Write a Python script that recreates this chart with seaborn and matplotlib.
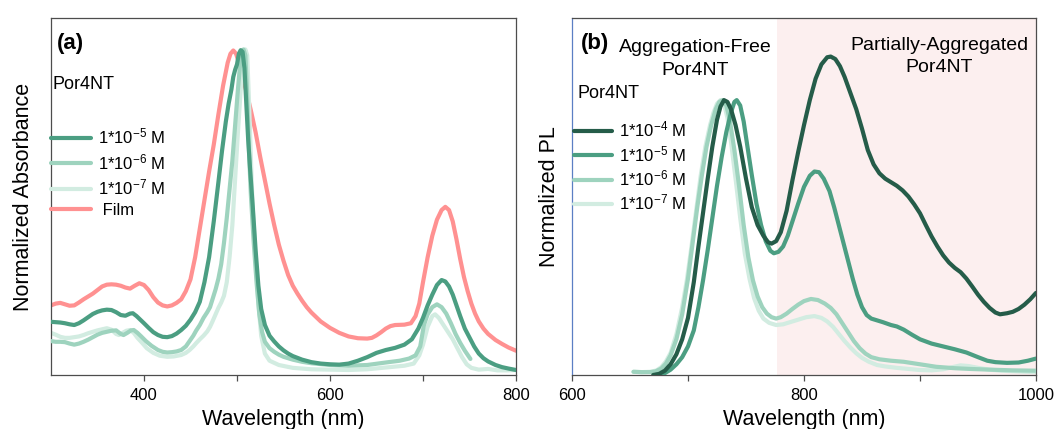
import numpy as np
import pandas as pd
import matplotlib
matplotlib.use("Agg")
import matplotlib.pyplot as plt
import seaborn as sns

# ---------------- data: panel (a) absorbance ----------------
abs_wl_5 = [300,305,310,315,320,325,330,335,340,345,350,355,360,365,370,375,380,385,388,392,396,400,405,410,415,420,425,430,435,440,445,450,455,460,465,470,475,480,484,488,491,494,496,498,500,502,504,506,508,510,512,514,517,520,523,526,530,535,540,545,550,555,560,570,580,590,600,610,620,630,640,650,660,670,680,688,695,700,705,710,715,720,724,728,732,736,740,745,750,755,760,765,770,778,785,792,800]
abs_5 = [0.149,0.148,0.147,0.145,0.142,0.14,0.145,0.153,0.162,0.171,0.177,0.181,0.183,0.182,0.176,0.168,0.166,0.172,0.173,0.165,0.155,0.145,0.132,0.12,0.112,0.107,0.106,0.109,0.116,0.126,0.138,0.155,0.176,0.205,0.26,0.33,0.43,0.54,0.63,0.71,0.76,0.8,0.835,0.855,0.87,0.9,0.91,0.905,0.86,0.76,0.66,0.58,0.47,0.35,0.25,0.185,0.14,0.11,0.094,0.08,0.069,0.06,0.053,0.043,0.036,0.032,0.03,0.029,0.032,0.04,0.05,0.062,0.07,0.076,0.085,0.1,0.13,0.16,0.195,0.225,0.252,0.266,0.262,0.248,0.225,0.195,0.165,0.13,0.105,0.08,0.06,0.047,0.038,0.028,0.022,0.018,0.014]

abs_wl_6 = [300,305,310,315,320,325,330,335,340,345,350,355,360,365,370,375,378,382,386,389,393,397,402,408,415,420,425,430,435,440,445,449,453,456,460,464,468,471,474,477,480,483,486,489,492,495,498,501,503,505,507,509,511,513,515,518,521,524,527,530,535,540,545,550,560,570,580,600,620,640,660,675,685,692,697,701,705,710,715,720,725,730,735,740,745,751]
abs_6 = [0.095,0.093,0.093,0.092,0.088,0.085,0.088,0.093,0.099,0.106,0.113,0.118,0.121,0.124,0.125,0.115,0.112,0.118,0.125,0.126,0.118,0.108,0.095,0.082,0.07,0.065,0.063,0.064,0.066,0.07,0.08,0.095,0.11,0.124,0.14,0.16,0.176,0.19,0.215,0.24,0.27,0.31,0.37,0.44,0.52,0.6,0.7,0.8,0.86,0.9,0.912,0.895,0.78,0.62,0.5,0.37,0.26,0.17,0.12,0.093,0.075,0.065,0.057,0.051,0.043,0.037,0.033,0.028,0.026,0.028,0.035,0.04,0.046,0.055,0.08,0.14,0.17,0.19,0.198,0.19,0.172,0.145,0.115,0.09,0.068,0.045]

abs_wl_7 = [300,305,310,315,320,325,330,335,340,345,350,355,360,365,370,373,377,381,385,389,393,398,403,410,417,425,432,440,445,449,453,456,460,464,468,471,474,477,480,483,486,489,492,495,498,501,504,507,509,511,513,515,517,520,523,526,530,535,545,560,580,600,620,640,660,680,690,696,700,705,710,713,717,722,727,732,737,742,747,752,760,770,780,790,800]
abs_7 = [0.118,0.113,0.107,0.104,0.104,0.106,0.108,0.112,0.117,0.121,0.125,0.128,0.131,0.127,0.115,0.112,0.118,0.124,0.126,0.118,0.104,0.09,0.075,0.062,0.054,0.051,0.052,0.056,0.062,0.07,0.08,0.089,0.1,0.11,0.122,0.135,0.152,0.17,0.188,0.203,0.222,0.26,0.33,0.42,0.55,0.68,0.8,0.89,0.912,0.895,0.76,0.6,0.46,0.33,0.2,0.11,0.06,0.04,0.028,0.02,0.016,0.015,0.014,0.016,0.021,0.026,0.032,0.055,0.085,0.135,0.165,0.17,0.16,0.14,0.12,0.1,0.075,0.05,0.03,0.02,0.015,0.017,0.013,0.013,0.014]

film_wl = [300,305,310,315,320,325,330,335,340,345,350,355,360,365,370,375,380,385,390,395,400,405,410,415,420,425,430,435,440,445,450,455,460,465,470,475,480,485,490,493,496,499,502,506,510,515,520,525,530,535,540,545,550,555,560,565,570,575,580,590,600,610,620,630,640,645,650,655,660,665,670,680,687,692,696,700,705,710,715,720,724,728,732,736,740,744,748,752,756,760,765,770,778,785,792,800]
film = [0.195,0.2,0.202,0.198,0.194,0.195,0.203,0.212,0.22,0.228,0.238,0.248,0.253,0.254,0.253,0.25,0.245,0.242,0.25,0.257,0.252,0.238,0.218,0.203,0.195,0.192,0.195,0.202,0.212,0.235,0.268,0.33,0.41,0.49,0.57,0.645,0.73,0.81,0.875,0.9,0.909,0.9,0.875,0.835,0.795,0.74,0.68,0.61,0.545,0.48,0.42,0.365,0.32,0.28,0.25,0.228,0.208,0.19,0.175,0.15,0.132,0.118,0.108,0.103,0.102,0.104,0.111,0.12,0.13,0.137,0.14,0.141,0.145,0.165,0.2,0.26,0.33,0.39,0.435,0.462,0.471,0.462,0.43,0.38,0.325,0.275,0.235,0.2,0.172,0.15,0.13,0.115,0.098,0.087,0.077,0.068]

# ---------------- data: panel (b) PL ----------------
pl_wl_4 = [670,675,680,685,690,695,700,705,709,713,717,721,725,728,731,734,737,741,745,750,755,760,765,769,772,776,780,785,790,795,800,805,810,815,820,823,827,831,835,840,845,850,855,860,865,870,875,880,885,890,895,900,905,910,915,920,925,930,935,940,945,950,955,960,965,969,975,980,985,990,995,1000]
pl_4 = [0.0,0.003,0.012,0.03,0.058,0.1,0.16,0.26,0.36,0.455,0.55,0.64,0.715,0.752,0.77,0.765,0.745,0.7,0.64,0.55,0.47,0.42,0.39,0.372,0.368,0.375,0.4,0.46,0.545,0.625,0.7,0.77,0.83,0.87,0.89,0.892,0.885,0.865,0.835,0.79,0.745,0.69,0.63,0.59,0.565,0.55,0.54,0.53,0.517,0.5,0.478,0.453,0.42,0.388,0.36,0.335,0.315,0.3,0.288,0.27,0.248,0.225,0.205,0.188,0.175,0.17,0.173,0.177,0.185,0.197,0.212,0.23]

pl_wl_5 = [672,680,685,690,695,700,705,709,713,717,721,725,729,733,737,740,742,745,748,751,755,759,763,767,771,774,778,782,786,790,795,800,805,809,813,817,822,826,830,834,838,842,846,850,854,858,863,868,875,880,886,893,900,910,920,930,940,950,958,965,975,985,993,1000]
pl_5 = [0.0,0.005,0.015,0.03,0.05,0.08,0.125,0.19,0.266,0.35,0.44,0.53,0.61,0.68,0.735,0.765,0.77,0.755,0.71,0.645,0.56,0.48,0.42,0.375,0.348,0.341,0.345,0.36,0.39,0.43,0.48,0.527,0.558,0.57,0.568,0.55,0.515,0.47,0.42,0.37,0.32,0.27,0.225,0.19,0.168,0.158,0.153,0.148,0.14,0.136,0.127,0.113,0.1,0.088,0.08,0.072,0.063,0.05,0.04,0.036,0.034,0.035,0.04,0.046]

pl_wl_6 = [653,660,667,672,677,681,685,690,695,700,704,708,712,716,720,724,727,730,733,736,740,744,748,752,756,760,764,768,772,776,780,785,790,795,800,806,812,818,823,828,833,838,843,848,853,858,865,875,886,900,914,930,943,960,980,1000]
pl_6 = [0.009,0.008,0.008,0.01,0.018,0.032,0.055,0.1,0.17,0.27,0.37,0.47,0.56,0.64,0.7,0.745,0.765,0.77,0.755,0.715,0.63,0.53,0.42,0.33,0.265,0.22,0.19,0.172,0.162,0.158,0.162,0.172,0.185,0.197,0.207,0.213,0.21,0.2,0.188,0.17,0.145,0.12,0.095,0.075,0.06,0.05,0.044,0.04,0.037,0.03,0.023,0.019,0.017,0.015,0.013,0.012]

pl_wl_7 = [653,660,668,673,677,681,685,690,695,699,703,707,711,715,719,722,725,728,731,734,737,741,745,749,753,757,761,765,770,776,782,788,795,802,809,815,820,825,830,835,840,845,850,856,863,870,880,890,900,910,920,928,935,942,950,960,970,985,1000]
pl_7 = [0.009,0.008,0.009,0.013,0.022,0.038,0.062,0.114,0.19,0.266,0.36,0.46,0.56,0.64,0.7,0.735,0.76,0.77,0.76,0.72,0.655,0.55,0.44,0.34,0.27,0.215,0.18,0.158,0.146,0.14,0.142,0.148,0.155,0.162,0.165,0.16,0.15,0.135,0.115,0.095,0.077,0.061,0.048,0.037,0.028,0.024,0.02,0.017,0.014,0.013,0.016,0.022,0.027,0.025,0.02,0.015,0.012,0.01,0.008]

labels_a = ["1*10$^{-5}$ M", "1*10$^{-6}$ M", "1*10$^{-7}$ M", " Film"]
labels_b = ["1*10$^{-4}$ M", "1*10$^{-5}$ M", "1*10$^{-6}$ M", "1*10$^{-7}$ M"]

# ---------------- style ----------------
sns.set_theme(style="white")
plt.rcParams["font.family"] = ["Liberation Sans", "DejaVu Sans"]
plt.rcParams["mathtext.fontset"] = "custom"
plt.rcParams["mathtext.rm"] = "Liberation Sans"
plt.rcParams["mathtext.default"] = "regular"
plt.rcParams["text.color"] = "black"
plt.rcParams["axes.labelcolor"] = "black"
plt.rcParams["xtick.color"] = "black"
plt.rcParams["lines.solid_joinstyle"] = "round"
plt.rcParams["lines.solid_capstyle"] = "round"

c4 = "#255c49"
c5 = "#4b9e82"
c6 = "#9ed3be"
c7 = "#d2ece1"
cfilm = "#ff9191"
spine_c = "#4d4d4d"

fig = plt.figure(figsize=(10.57, 4.29), dpi=100)
axa = fig.add_axes([51/1057, 54/429, 465/1057, 357/429])
axb = fig.add_axes([572/1057, 54/429, 464/1057, 357/429])

lw = 3.0
# panel a
sns.lineplot(x=film_wl, y=film, ax=axa, color=cfilm, lw=lw, label=labels_a[3], zorder=1)
sns.lineplot(x=abs_wl_7, y=abs_7, ax=axa, color=c7, lw=lw, label=labels_a[2], zorder=2)
sns.lineplot(x=abs_wl_6, y=abs_6, ax=axa, color=c6, lw=lw, label=labels_a[1], zorder=3)
sns.lineplot(x=abs_wl_5, y=abs_5, ax=axa, color=c5, lw=lw, label=labels_a[0], zorder=4)

# panel b
axb.axvspan(777, 1000, color="#fcefef", zorder=0, lw=0)
sns.lineplot(x=pl_wl_7, y=pl_7, ax=axb, color=c7, lw=lw, label=labels_b[3], zorder=2)
sns.lineplot(x=pl_wl_6, y=pl_6, ax=axb, color=c6, lw=lw, label=labels_b[2], zorder=3)
sns.lineplot(x=pl_wl_5, y=pl_5, ax=axb, color=c5, lw=lw, label=labels_b[1], zorder=4)
sns.lineplot(x=pl_wl_4, y=pl_4, ax=axb, color=c4, lw=lw, label=labels_b[0], zorder=5)

for ax, (x0, x1), major, minor in [
    (axa, (300, 800), [400, 600, 800], [500, 700]),
    (axb, (600, 1000), [600, 800, 1000], [700, 900]),
]:
    ax.set_xlim(x0, x1)
    ax.set_ylim(0, 1)
    ax.set_xticks(major)
    ax.set_xticks(minor, minor=True)
    ax.set_yticks([])
    ax.tick_params(axis="x", which="both", direction="out", length=4, width=0.9,
                   colors=spine_c, labelcolor="black", labelsize=12, pad=5, bottom=True)
    for s in ax.spines.values():
        s.set_color(spine_c)
        s.set_linewidth(0.9)
    ax.set_xlabel("Wavelength (nm)", fontsize=15.5, labelpad=5)

axb.spines["left"].set_color("#5b7fc4")
axa.set_ylabel("Normalized Absorbance", fontsize=15.5, labelpad=12)
axb.set_ylabel("Normalized PL", fontsize=15.5, labelpad=8.5)

# legends
h, l = axa.get_legend_handles_labels()
order = [l.index(x) for x in labels_a]
axa.legend([h[i] for i in order], [l[i] for i in order], loc="upper left",
           bbox_to_anchor=(0.0, 0.695), frameon=False, fontsize=12,
           handlelength=2.4, handletextpad=0.4, labelspacing=0.33,
           borderpad=0, borderaxespad=0)
h, l = axb.get_legend_handles_labels()
order = [l.index(x) for x in labels_b]
axb.legend([h[i] for i in order], [l[i] for i in order], loc="upper left",
           bbox_to_anchor=(0.004, 0.715), frameon=False, fontsize=12,
           handlelength=2.3, handletextpad=0.4, labelspacing=0.27,
           borderpad=0, borderaxespad=0)

# annotations
axa.text(0.013, 0.928, "(a)", transform=axa.transAxes, fontsize=16, fontweight="bold",
         ha="left", va="center")
axa.text(0.004, 0.815, "Por4NT", transform=axa.transAxes, fontsize=13, ha="left", va="center")
axb.text(0.02, 0.928, "(b)", transform=axb.transAxes, fontsize=16, fontweight="bold",
         ha="left", va="center")
axb.text(0.012, 0.788, "Por4NT", transform=axb.transAxes, fontsize=13, ha="left", va="center")
axb.text(0.265, 0.885, "Aggregation-Free\nPor4NT", transform=axb.transAxes, fontsize=14,
         ha="center", va="center", linespacing=1.4)
axb.text(0.791, 0.892, "Partially-Aggregated\nPor4NT", transform=axb.transAxes, fontsize=14,
         ha="center", va="center", linespacing=1.4)

fig.savefig("out.png", dpi=100)
